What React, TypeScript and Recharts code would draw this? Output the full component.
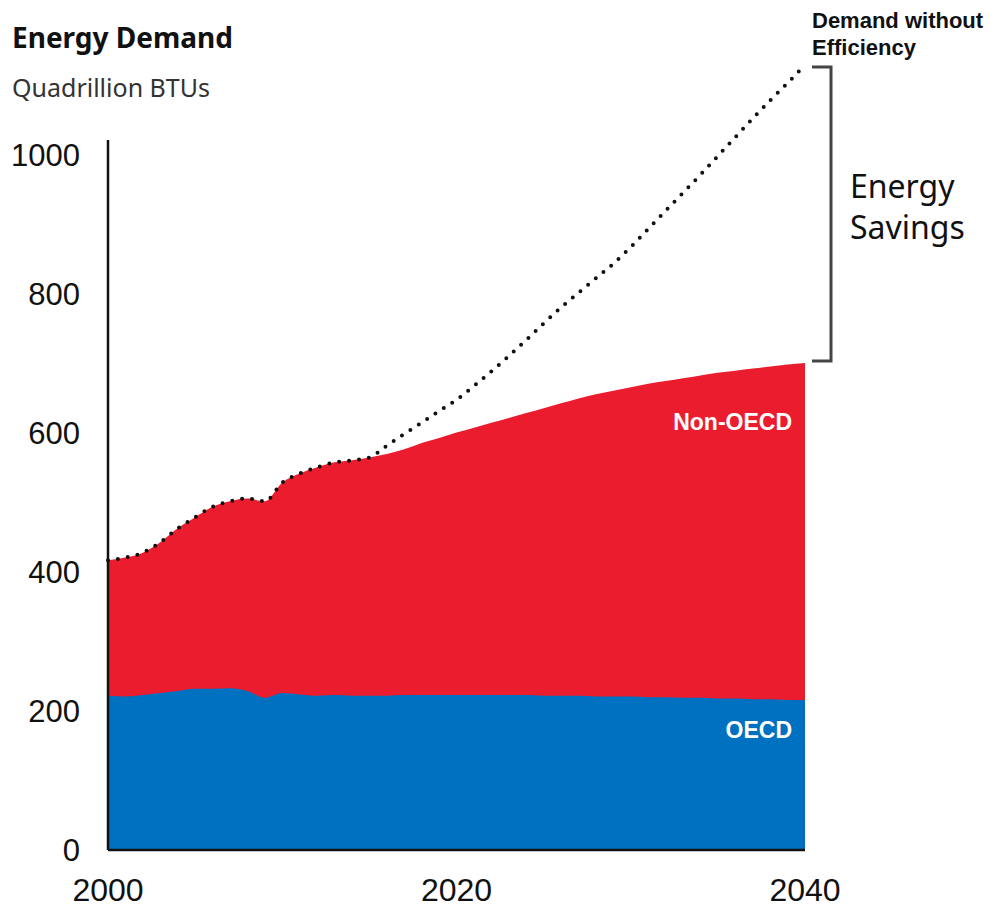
import React from 'react';
import { ComposedChart, Area, Line, XAxis, YAxis, ReferenceLine } from 'recharts';

const years = [
  2000, 2001, 2002, 2003, 2004, 2005, 2006, 2007, 2008, 2009,
  2010, 2011, 2012, 2013, 2014, 2015, 2016, 2017, 2018, 2019,
  2020, 2021, 2022, 2023, 2024, 2025, 2026, 2027, 2028, 2029,
  2030, 2031, 2032, 2033, 2034, 2035, 2036, 2037, 2038, 2039, 2040,
];

// total demand (top of the red area)
const totalDemand = [
  417, 421, 428, 443, 463, 479, 494, 502, 506, 502,
  529, 542, 551, 558, 561, 565, 570, 577, 586, 593,
  601, 608, 615, 622, 629, 636, 643, 650, 656, 661,
  666, 671, 675, 679, 683, 687, 690, 693, 696, 699, 701,
];

const oecdDemand = [
  222, 221, 223, 226, 229, 232, 232, 233, 229, 219,
  226, 224, 222, 223, 222, 222, 222, 223, 223, 223,
  223, 223, 223, 223, 223, 222, 222, 222, 221, 221,
  221, 220, 220, 219, 219, 218, 218, 217, 217, 216, 216,
];

const demandWithoutEfficiency = [
  417, 421, 428, 443, 463, 479, 494, 502, 506, 502,
  529, 542, 551, 558, 561, 565, 582, 599, 615, 632,
  648, 668, 689, 711, 734, 758, 781, 802, 823, 844,
  868, 894, 920, 946, 972, 999, 1026, 1053, 1079, 1104, 1130,
];

const xTicks = [2000, 2020, 2040];
const yTicks = [0, 200, 400, 600, 800, 1000];

const RED = '#ec1c2f';
const BLUE = '#0070c0';
const SANS = "'Liberation Sans', Arial, sans-serif";
const HUMANIST = "'Noto Sans', 'Open Sans', sans-serif";

const rows = years.map((year, i) => ({
  year,
  total: totalDemand[i],
  oecd: oecdDemand[i],
  noEff: demandWithoutEfficiency[i],
}));

const XTick = (props: any) => (
  <text x={props.x} y={890} textAnchor="middle" dominantBaseline="central"
    fontFamily={SANS} fontSize={32} fill="#111">
    {props.payload.value}
  </text>
);

const YTick = (props: any) => (
  <text x={80} y={props.y} textAnchor="end" dominantBaseline="central"
    fontFamily={SANS} fontSize={31} fill="#111">
    {props.payload.value}
  </text>
);

export default function App() {
  return (
    <div style={{ position: 'absolute', left: 0, top: 0, width: 1000, height: 907, background: '#fff' }}>
      <ComposedChart width={1000} height={907} data={rows}
        margin={{ top: 65, right: 195, bottom: 0, left: 0 }}>
        <XAxis dataKey="year" type="number" domain={[2000, 2040]} ticks={xTicks}
          height={57} tickLine={false} tick={<XTick />}
          axisLine={{ stroke: '#111', strokeWidth: 2.5 }} />
        <YAxis type="number" domain={[0, 1130]} ticks={yTicks} width={108}
          tickLine={false} axisLine={false} tick={<YTick />} />
        <Area dataKey="total" type="monotone" fill={RED} fillOpacity={1} stroke="none"
          isAnimationActive={false} />
        <Area dataKey="oecd" type="monotone" fill={BLUE} fillOpacity={1} stroke="none"
          isAnimationActive={false} />
        <Line dataKey="noEff" type="monotone" stroke="#111" strokeWidth={4}
          strokeDasharray="0 10" strokeLinecap="round" dot={false} isAnimationActive={false} />
        <ReferenceLine segment={[{ x: 2000, y: 0 }, { x: 2000, y: 1022 }]}
          stroke="#111" strokeWidth={2.5} />
      </ComposedChart>

      <svg width={1000} height={907} style={{ position: 'absolute', left: 0, top: 0, pointerEvents: 'none' }}>
        <text x={12} y={48} fontFamily={HUMANIST} fontWeight={700} fontSize={28} fill="#111">Energy Demand</text>
        <text x={12} y={97} fontFamily={HUMANIST} fontSize={25} fill="#333">Quadrillion BTUs</text>

        <text x={812} y={28} fontFamily={SANS} fontWeight={700} fontSize={22} fill="#111">Demand without</text>
        <text x={812} y={55} fontFamily={SANS} fontWeight={700} fontSize={22} fill="#111">Efficiency</text>

        <path d="M812 67 H831 V361 H812" fill="none" stroke="#444" strokeWidth={3} />

        <text x={850} y={198} fontFamily={HUMANIST} fontSize={32} fill="#111">Energy</text>
        <text x={850} y={239} fontFamily={HUMANIST} fontSize={32} fill="#111">Savings</text>

        <text x={792} y={430} textAnchor="end" fontFamily={SANS} fontWeight={700} fontSize={23} fill="#fff">Non-OECD</text>
        <text x={792} y={738} textAnchor="end" fontFamily={SANS} fontWeight={700} fontSize={23} fill="#fff">OECD</text>
      </svg>
    </div>
  );
}
